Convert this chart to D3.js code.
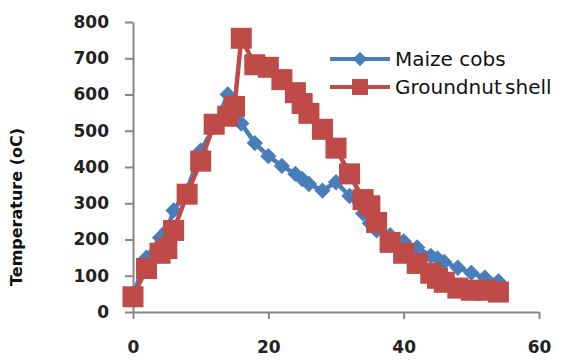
<!DOCTYPE html>
<html>
<head>
<meta charset="utf-8">
<script src="https://cdn.jsdelivr.net/npm/d3@7"></script>
<style>
  body { margin: 0; background: #fff; }
  .axis path, .axis line { stroke: #868686; stroke-width: 2; }
  .axis text { font-family: "DejaVu Sans", sans-serif; font-weight: bold; font-size: 17px; fill: #222; }
</style>
</head>
<body>
<div id="chart"></div>
<script>
// time (min) and temperature readings
const time = [0, 2, 4, 5, 6, 8, 10, 12, 14, 15, 16, 18, 20, 22, 24, 25, 26, 28, 30, 32, 34, 35, 36, 38, 40, 42, 44, 45, 46, 48, 50, 52, 54];
const maizeCobs = [45, 150, 205, 225, 280, 335, 445, 510, 600, 560, 520, 466, 430, 403, 381, 367, 353, 335, 358, 320, 272, 245, 225, 212, 195, 178, 155, 148, 138, 122, 108, 95, 85];
const groundnutShell = [42, 120, 162, 175, 225, 325, 416, 518, 540, 567, 755, 682, 675, 641, 605, 575, 548, 504, 452, 381, 310, 293, 247, 192, 162, 134, 107, 93, 82, 66, 60, 60, 55];
const xTicks = [0, 20, 40, 60];
const yTicks = [0, 100, 200, 300, 400, 500, 600, 700, 800];
const seriesNames = ['Maize cobs', 'Groundnut shell'];

const svg = d3.select('#chart')
  .append('svg')
  .attr('width', 566)
  .attr('height', 360);

const margin = { top: 22, right: 27, bottom: 48, left: 133 };
const width = 566 - margin.left - margin.right;
const height = 360 - margin.top - margin.bottom;

const x = d3.scaleLinear().domain([0, 60]).range([0, width]);
const y = d3.scaleLinear().domain([0, 800]).range([height, 0]);

const g = svg.append('g')
  .attr('transform', `translate(${margin.left},${margin.top})`);

g.append('g')
  .attr('class', 'axis')
  .attr('transform', `translate(0,${height})`)
  .call(d3.axisBottom(x).tickValues(xTicks).tickSize(7).tickSizeOuter(0).tickPadding(22));

g.append('g')
  .attr('class', 'axis')
  .call(d3.axisLeft(y).tickValues(yTicks).tickSize(8).tickSizeOuter(0).tickPadding(16));

svg.append('text')
  .attr('transform', 'translate(22,207) rotate(-90)')
  .attr('text-anchor', 'middle')
  .style('font-family', '"DejaVu Sans", sans-serif')
  .style('font-weight', 'bold')
  .style('font-size', '16px')
  .style('fill', '#111')
  .text('Temperature (oC)');

const blue = '#4a7ebb';
const red = '#be4b48';

const line = d3.line().x((d, i) => x(time[i])).y(d => y(d));

// Maize cobs
g.append('path')
  .datum(maizeCobs)
  .attr('fill', 'none')
  .attr('stroke', blue)
  .attr('stroke-width', 4.5)
  .attr('d', line);

g.selectAll('.diamond')
  .data(maizeCobs)
  .enter().append('path')
  .attr('class', 'diamond')
  .attr('d', d3.symbol(d3.symbolDiamond2, 170))
  .attr('transform', (d, i) => `translate(${x(time[i])},${y(d)})`)
  .attr('fill', blue);

// Groundnut shell
g.append('path')
  .datum(groundnutShell)
  .attr('fill', 'none')
  .attr('stroke', red)
  .attr('stroke-width', 4.5)
  .attr('d', line);

g.selectAll('.square')
  .data(groundnutShell)
  .enter().append('rect')
  .attr('class', 'square')
  .attr('x', (d, i) => x(time[i]) - 10.5)
  .attr('y', d => y(d) - 10.5)
  .attr('width', 21)
  .attr('height', 21)
  .attr('fill', red);

// legend
const legend = svg.append('g').attr('transform', 'translate(330,59)');
[blue, red].forEach((c, i) => {
  const row = legend.append('g').attr('transform', `translate(0,${i * 28})`);
  row.append('line').attr('x1', 0).attr('x2', 60).attr('stroke', c).attr('stroke-width', 4);
  if (i === 0) {
    row.append('path').attr('d', d3.symbol(d3.symbolDiamond2, 130)).attr('transform', 'translate(30,0)').attr('fill', c);
  } else {
    row.append('rect').attr('x', 22).attr('y', -8).attr('width', 16).attr('height', 16).attr('fill', c);
  }
  row.append('text')
    .attr('x', 65)
    .attr('y', 7)
    .style('font-family', '"DejaVu Sans", sans-serif')
    .style('font-size', '20px')
    .style('word-spacing', i === 1 ? '-3px' : '0px')
    .style('fill', '#111')
    .text(seriesNames[i]);
});
</script>
</body>
</html>
